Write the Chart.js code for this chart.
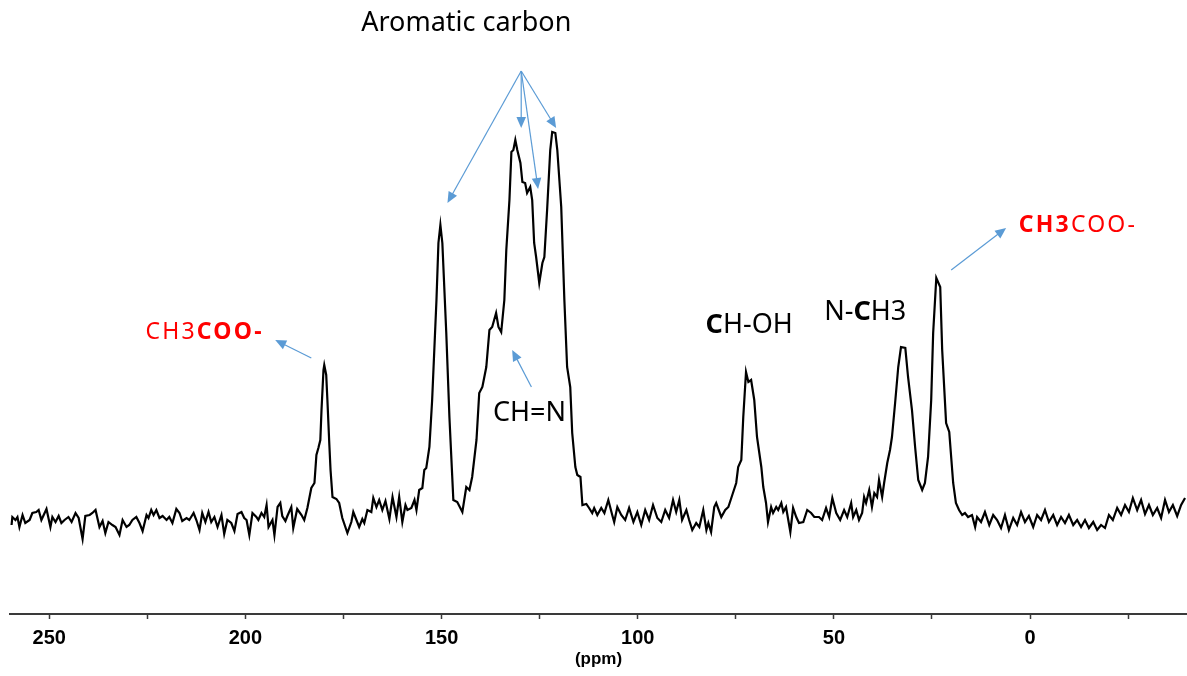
<!DOCTYPE html>
<html>
<head>
<meta charset="utf-8">
<script src="https://cdn.jsdelivr.net/npm/chart.js@4.4.1/dist/chart.umd.min.js"></script>
<style>
  html, body { margin: 0; padding: 0; background: #fff; }
  #wrap { width: 1187px; height: 676px; position: relative; }
</style>
</head>
<body>
<div id="wrap"><canvas id="nmr"></canvas></div>
<script>
// chemical shift (ppm) left to right
const ppm = [
  259.6, 259.4, 258.6, 258.1, 257.6, 256.8, 256.1, 255.0, 254.3, 253.3, 252.7, 252.0, 250.7, 249.7, 249.2, 248.4,
  247.6, 246.9, 246.1, 245.1, 244.3, 243.3, 242.5, 241.5, 240.8, 239.7, 239.0, 238.2, 237.2, 236.4, 235.7, 234.9,
  233.9, 233.1, 232.1, 231.3, 230.3, 229.6, 228.8, 227.8, 227.0, 226.2, 225.2, 224.7, 224.0, 223.4, 222.7, 221.9,
  221.1, 220.1, 219.4, 218.6, 217.6, 216.8, 216.1, 215.0, 214.3, 213.2, 212.5, 211.7, 211.0, 210.2, 209.4, 208.7,
  207.9, 207.1, 206.1, 205.4, 204.6, 203.6, 202.8, 202.0, 201.0, 200.3, 199.7, 199.0, 198.2, 197.2, 196.7, 195.9,
  195.2, 194.6, 194.1, 193.1, 192.6, 191.8, 191.1, 190.6, 189.8, 189.3, 188.3, 187.8, 186.8, 185.7, 185.0, 184.2,
  183.2, 182.4, 181.9, 181.4, 180.9, 180.6, 180.1, 179.9, 179.4, 179.1, 178.6, 178.3, 177.8, 176.8, 176.1, 175.3,
  174.0, 173.0, 172.5, 171.7, 171.0, 170.2, 169.7, 168.9, 167.9, 167.4, 166.6, 165.9, 165.1, 164.3, 163.3, 162.5,
  161.5, 160.8, 160.0, 159.2, 158.7, 157.7, 156.9, 156.4, 155.7, 154.9, 154.4, 153.9, 153.1, 152.4, 151.3, 150.8,
  150.3, 149.8, 148.8, 148.0, 147.0, 146.0, 144.7, 143.7, 142.9, 142.2, 141.1, 140.4, 139.6, 138.6, 137.8, 137.1,
  136.1, 135.5, 134.8, 134.0, 133.5, 132.7, 132.2, 131.7, 131.2, 130.7, 129.9, 129.4, 128.7, 128.2, 127.4, 126.9,
  126.4, 125.9, 125.1, 124.3, 123.8, 123.1, 122.3, 121.8, 121.0, 120.5, 119.5, 118.7, 118.0, 117.2, 116.7, 115.9,
  115.4, 114.6, 114.1, 113.1, 112.4, 111.6, 111.1, 110.3, 109.3, 108.5, 107.5, 106.5, 106.0, 105.2, 104.2, 103.2,
  102.2, 101.1, 100.1, 99.1, 98.1, 97.1, 96.1, 95.0, 94.0, 93.0, 92.0, 91.0, 90.2, 89.4, 88.7, 87.6,
  86.9, 86.1, 85.1, 84.3, 83.3, 82.5, 82.0, 81.3, 80.5, 80.0, 78.7, 77.7, 76.9, 75.9, 74.9, 74.4,
  73.6, 73.1, 72.4, 71.8, 71.1, 70.3, 69.6, 68.5, 68.0, 67.3, 66.8, 66.0, 65.5, 64.7, 64.2, 63.4,
  62.9, 62.2, 61.1, 60.4, 59.6, 58.9, 57.8, 56.8, 55.8, 55.0, 53.8, 53.0, 52.0, 51.2, 50.4, 49.4,
  48.4, 47.4, 46.6, 45.6, 45.1, 44.3, 43.6, 42.8, 42.3, 41.8, 41.0, 40.3, 39.7, 39.0, 38.5, 37.7,
  37.2, 36.4, 35.7, 35.2, 34.4, 33.6, 32.9, 31.8, 31.1, 30.1, 29.3, 28.5, 27.5, 26.8, 26.0, 25.2,
  24.7, 23.9, 22.9, 22.4, 21.4, 20.6, 19.6, 18.9, 18.1, 17.3, 16.6, 15.8, 14.8, 14.0, 13.5, 12.5,
  11.5, 10.4, 9.4, 8.4, 7.4, 6.4, 5.4, 4.3, 3.3, 2.3, 1.3, 0.3, -0.8, -1.8, -2.8, -3.8,
  -4.8, -5.9, -6.9, -7.9, -8.9, -9.9, -11.0, -12.0, -13.0, -14.0, -15.0, -16.1, -17.1, -18.1, -19.1, -20.1,
  -21.1, -22.2, -23.2, -24.2, -25.2, -26.2, -27.3, -28.3, -29.3, -30.3, -31.3, -32.4, -33.4, -34.4, -35.4, -36.4,
  -37.5, -38.5, -39.5
];

// signal intensity (arb. units), same order as ppm
const intensity = [
  -5, 3, 0, 3, -7, 5, -3, 0, 7, 8, 10, 0, 11, -7, 3, -2,
  4, -3, 0, 3, -2, 7, 2, -19, 4, 5, 7, 10, -7, -1, -13, -2,
  -5, -7, -15, 0, -7, -5, 0, 3, -3, -11, 5, 2, 10, 5, 10, 2,
  4, 0, 3, -3, 11, 7, -1, 2, 0, 7, 0, -10, 7, -2, 8, -2,
  3, -7, 5, -14, 0, -3, -11, 6, 8, 2, 0, -15, 7, 3, 0, 7,
  3, 15, -7, 0, -15, 13, 17, 4, -1, 4, 13, -8, 11, 5, 0, 12,
  32, 37, 65, 72, 80, 110, 150, 155, 145, 120, 75, 50, 23, 21, 17, 2,
  -13, -2, 8, 0, -7, 1, -3, 10, 8, 22, 13, 20, 10, 19, 1, 23,
  3, 23, -2, 15, 10, 12, 20, 10, 30, 32, 50, 52, 73, 120, 220, 277,
  295, 277, 187, 103, 20, 18, 8, 33, 30, 43, 80, 127, 133, 153, 190, 193,
  207, 193, 188, 220, 270, 320, 368, 370, 380, 370, 357, 338, 337, 327, 333, 320,
  277, 263, 237, 257, 263, 310, 370, 388, 387, 370, 313, 220, 153, 133, 87, 53,
  45, 43, 15, 16, 12, 7, 12, 5, 12, 7, 20, 5, -2, 13, 5, 0,
  12, -2, 8, -5, 10, 0, 15, 2, -2, 10, 2, 20, 8, 20, 0, 10,
  0, -10, -3, -7, 10, -10, -3, -12, 13, 17, 3, 10, 13, 25, 37, 53,
  60, 103, 148, 138, 140, 120, 83, 53, 33, 17, -2, 13, 7, 13, 10, 17,
  8, 13, -12, 12, 3, -3, -2, 10, 7, 3, 3, 0, 12, 3, 22, 7,
  0, 10, 3, 17, 3, 10, 0, 7, 23, 17, 30, 13, 27, 23, 40, 23,
  37, 57, 70, 83, 117, 153, 173, 172, 143, 110, 73, 40, 30, 37, 63, 120,
  187, 242, 233, 170, 97, 88, 37, 17, 10, 5, 7, 3, 5, -7, 3, -2,
  8, -5, 5, 0, -8, 5, -10, 2, -5, 8, -2, 4, -7, 5, 0, 10,
  -2, 5, -5, 3, -3, 5, -5, 0, -7, 0, -8, -2, -10, -5, -8, 5,
  0, 12, 5, 15, 8, 22, 10, 20, 6, 15, 5, 12, 2, 20, 8, 15,
  4, 15, 22
];

const xMin = -40;
const xMax = 260;
const yMin = -94;
const yMax = 520;
// tick marks every 25 ppm, labelled every 50
const tickValues = [250, 225, 200, 175, 150, 125, 100, 75, 50, 25, 0, -25];
const tickLabels = { 250: "250", 200: "200", 150: "150", 100: "100", 50: "50", 0: "0" };
const axisTitle = "(ppm)";

// peak assignments: text parts ([text, bold]), anchor in ppm / intensity
const labels = [
  { parts: [["Aromatic carbon", false]], at: [143.7, 497], size: 27, color: "#000" },
  { parts: [["CH=N", false]], at: [127.6, 107], size: 27, color: "#000" },
  { parts: [["C", true], ["H-OH", false]], at: [71.6, 195], size: 27, color: "#000" },
  { parts: [["N-", false], ["C", true], ["H3", false]], at: [42.0, 208], size: 27, color: "#000" },
  { parts: [["CH3", false], ["COO-", true]], at: [210.4, 188], size: 23, color: "#ff0000", spacing: 2.2 },
  { parts: [["CH3", true], ["COO-", false]], at: [-12.2, 295], size: 23, color: "#ff0000", spacing: 2.2 }
];

// arrows: from -> to, in ppm / intensity
const arrows = [
  { from: [129.7, 449], to: [148.5, 317] },
  { from: [129.7, 449], to: [129.7, 392] },
  { from: [129.7, 449], to: [125.4, 331] },
  { from: [129.7, 449], to: [120.8, 392] },
  { from: [127.1, 133], to: [132.0, 170] },
  { from: [183.2, 162], to: [192.4, 180] },
  { from: [20.1, 250], to: [6.1, 292] }
];

const arrowColor = "#5b9bd5";

function drawRich(ctx, item, cx, cy) {
  ctx.save();
  ctx.fillStyle = item.color;
  ctx.textBaseline = "middle";
  ctx.textAlign = "left";
  ctx.letterSpacing = (item.spacing || 0) + "px";
  const fontOf = (bold) => `${bold ? "bold " : ""}${item.size}px "Noto Sans", sans-serif`;
  let total = 0;
  const widths = item.parts.map(([t, b]) => {
    ctx.font = fontOf(b);
    const w = ctx.measureText(t).width;
    total += w;
    return w;
  });
  let x = cx - total / 2;
  item.parts.forEach(([t, b], i) => {
    ctx.font = fontOf(b);
    ctx.fillText(t, x, cy);
    x += widths[i];
  });
  ctx.restore();
}

function drawArrow(ctx, x1, y1, x2, y2) {
  const ang = Math.atan2(y2 - y1, x2 - x1);
  const len = 11, half = 4.8;
  ctx.save();
  ctx.strokeStyle = arrowColor;
  ctx.fillStyle = arrowColor;
  ctx.lineWidth = 1.2;
  ctx.beginPath();
  ctx.moveTo(x1, y1);
  ctx.lineTo(x2 - Math.cos(ang) * (len - 1), y2 - Math.sin(ang) * (len - 1));
  ctx.stroke();
  ctx.beginPath();
  ctx.moveTo(x2, y2);
  ctx.lineTo(x2 - Math.cos(ang) * len - Math.sin(ang) * half, y2 - Math.sin(ang) * len + Math.cos(ang) * half);
  ctx.lineTo(x2 - Math.cos(ang) * len + Math.sin(ang) * half, y2 - Math.sin(ang) * len - Math.cos(ang) * half);
  ctx.closePath();
  ctx.fill();
  ctx.restore();
}

const annotate = {
  id: "annotate",
  afterDatasetsDraw(chart) {
    const { ctx, scales: { x, y } } = chart;
    arrows.forEach((a) => {
      drawArrow(ctx,
        x.getPixelForValue(a.from[0]), y.getPixelForValue(a.from[1]),
        x.getPixelForValue(a.to[0]), y.getPixelForValue(a.to[1]));
    });
    labels.forEach((l) => {
      drawRich(ctx, l, x.getPixelForValue(l.at[0]), y.getPixelForValue(l.at[1]));
    });
  }
};

new Chart(document.getElementById("nmr"), {
  type: "line",
  data: {
    datasets: [{
      data: ppm.map((p, i) => ({ x: p, y: intensity[i] })),
      borderColor: "#000",
      borderWidth: 2.2,
      pointRadius: 0,
      tension: 0,
      fill: false
    }]
  },
  options: {
    responsive: true,
    maintainAspectRatio: false,
    animation: false,
    layout: { padding: { left: 10, right: 0, top: 0, bottom: 0 } },
    plugins: { legend: { display: false }, tooltip: { enabled: false } },
    scales: {
      x: {
        type: "linear",
        reverse: true,
        min: xMin,
        max: xMax,
        border: { display: true, color: "#3a3a3a", width: 2 },
        grid: { drawOnChartArea: false, drawTicks: true, tickLength: 5, tickColor: "#3a3a3a", tickWidth: 1.5 },
        afterBuildTicks: (s) => { s.ticks = tickValues.map((v) => ({ value: v })); },
        ticks: {
          autoSkip: false,
          maxRotation: 0,
          padding: 7,
          color: "#000",
          font: { family: "Arial", size: 20, weight: "bold" },
          callback: (v) => tickLabels[v] || ""
        },
        title: {
          display: true,
          text: axisTitle,
          color: "#000",
          font: { family: "Arial", size: 17, weight: "bold" },
          padding: { top: 0, bottom: 6 }
        },
        afterFit: (s) => { s.height = 62; }
      },
      y: { display: false, min: yMin, max: yMax }
    }
  },
  plugins: [annotate]
});
</script>
</body>
</html>
